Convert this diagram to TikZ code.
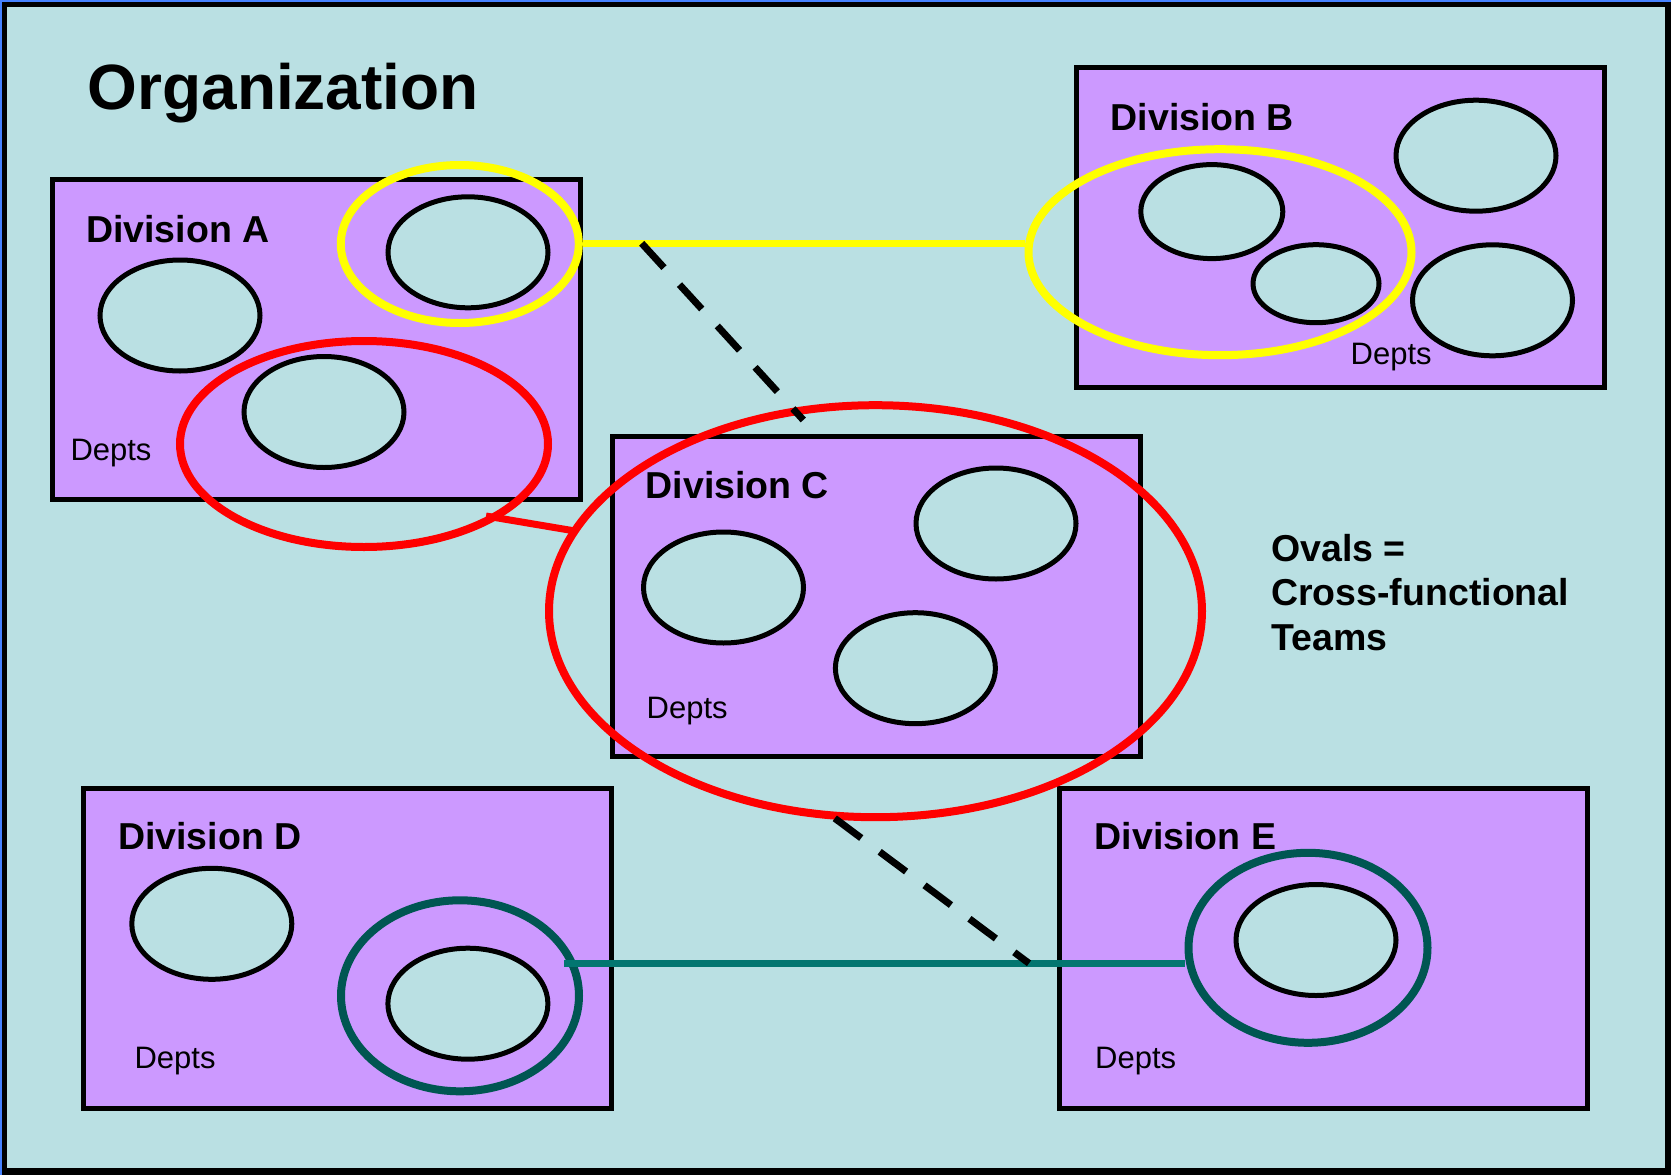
\documentclass[tikz,border=0pt]{standalone}
\usepackage{fontspec}
\setmainfont{Liberation Sans}
\usetikzlibrary{shapes.geometric,calc}

\definecolor{bgcyan}{RGB}{186,224,227}
\definecolor{divpurple}{RGB}{204,153,255}
\definecolor{teamyellow}{RGB}{255,255,0}
\definecolor{teamred}{RGB}{255,0,0}
\definecolor{teamteal}{RGB}{0,86,82}
\definecolor{linkteal}{RGB}{3,118,112}
\definecolor{edgeblue}{RGB}{70,130,255}

\begin{document}
\begin{tikzpicture}[x=1pt,y=-1pt,
  division/.style={rectangle, draw=black, fill=divpurple, line width=5pt,
    minimum width=528pt, minimum height=320pt, inner sep=0pt},
  dept/.style={ellipse, draw=black, fill=bgcyan, line width=5pt, inner sep=0pt,
    minimum width=160pt, minimum height=111pt},
  team/.style={ellipse, line width=8pt, inner sep=0pt},
  divlabel/.style={anchor=base west, inner sep=0pt,
    font=\fontsize{37.5}{45}\selectfont\bfseries},
  deptlabel/.style={anchor=base west, inner sep=0pt,
    font=\fontsize{31}{37}\selectfont},
  link/.style={line width=7pt},
  crosslink/.style={draw=black, line width=7pt, dash pattern=on 33pt off 23pt},
]
% frame and background
\useasboundingbox (0,0) rectangle (1671,1175);
\fill[black] (0,0) rectangle (1671,1175);
\fill[bgcyan] (7,7) rectangle (1665,1168);
\draw[edgeblue, line width=1.5pt] (0.75,1175) -- (0.75,0.75) -- (1671,0.75);

% title
\node[anchor=base west, inner sep=0pt, font=\fontsize{64}{76}\selectfont\bfseries]
  (title) at (87.5,109.5) {Organization};

% divisions
\node[division] (divA) at (316,339.75) {};
\node[division] (divB) at (1340,227.5) {};
\node[division] (divC) at (876,596.5) {};
\node[division] (divD) at (347.5,948) {};
\node[division] (divE) at (1323.75,948) {};

% departments
\node[dept] (a1) at (180,315.5) {};
\node[dept] (a2) at (468,252.3) {};
\node[dept] (a3) at (324,412) {};

\node[dept] (b1) at (1476,155.7) {};
\node[dept] (b2) at (1492.5,300.3) {};
\node[dept, minimum width=142pt, minimum height=94pt] (b3) at (1211.8,211.6) {};
\node[dept, minimum width=126pt, minimum height=78pt] (b4) at (1316,283.7) {};

\node[dept] (c1) at (996,523.5) {};
\node[dept] (c2) at (723.5,587.5) {};
\node[dept] (c3) at (915.4,668.2) {};

\node[dept] (d1) at (211.8,923.8) {};
\node[dept] (d2) at (467.9,1003.7) {};

\node[dept] (e1) at (1316,940) {};

% labels
\node[divlabel] (labA) at (86,242) {Division A};
\node[divlabel] (labB) at (1110.5,130) {Division B};
\node[divlabel] (labC) at (645.5,498.3) {Division C};
\node[divlabel] (labD) at (118,849.3) {Division D};
\node[divlabel] (labE) at (1094.7,849.3) {Division E};

\node[deptlabel] (depA) at (70.3,460.7) {Depts};
\node[deptlabel] (depB) at (1350.5,364.3) {Depts};
\node[deptlabel] (depC) at (646.5,718.3) {Depts};
\node[deptlabel] (depD) at (134.4,1068.3) {Depts};
\node[deptlabel] (depE) at (1095,1068.3) {Depts};

\node[anchor=base west, inner sep=0pt] (legend) at (1271,561)
  {\fontsize{37.5}{44.5}\selectfont\bfseries
   \begin{tabular}[t]{@{}l@{}}Ovals =\\Cross-functional\\Teams\end{tabular}};

% cross-functional teams
\node[team, draw=teamyellow, minimum width=238pt, minimum height=158pt] (yelA) at (459.8,244) {};
\node[team, draw=teamyellow, minimum width=383pt, minimum height=206pt] (yelB) at (1220,252.2) {};
\node[team, draw=teamred, minimum width=368pt, minimum height=206pt] (redA) at (364,444) {};
\node[team, draw=teamred, minimum width=653pt, minimum height=412pt] (redC) at (875.5,611.2) {};
\node[team, draw=teamteal, minimum width=238pt, minimum height=191pt] (tealD) at (460,995.8) {};
\node[team, draw=teamteal, minimum width=239pt, minimum height=190pt] (tealE) at (1308,947.8) {};

% links between team members
\coordinate (redLinkA) at (486,516);
\coordinate (redLinkC) at (575,531);
\coordinate (tealLinkD) at (564,963.5);

\draw[link, teamyellow, line width=6.5pt] (yelA.east |- 0,243.3) -- (yelB.west |- 0,243.3);
\draw[link, teamred] (redLinkA) -- (redLinkC);
\draw[link, linkteal] (tealLinkD) -- (tealLinkD -| tealE.west);

% dashed cross links
\coordinate (dashTop) at (641.7,243.3);
\coordinate (dashTopEnd) at (803.3,420);
\coordinate (dashBot) at (834.8,818.3);
\coordinate (dashBotEnd) at (1029,963.3);
\draw[crosslink] (dashTop) -- (dashTopEnd);
\draw[crosslink] (dashBot) -- (dashBotEnd);
\end{tikzpicture}
\end{document}
